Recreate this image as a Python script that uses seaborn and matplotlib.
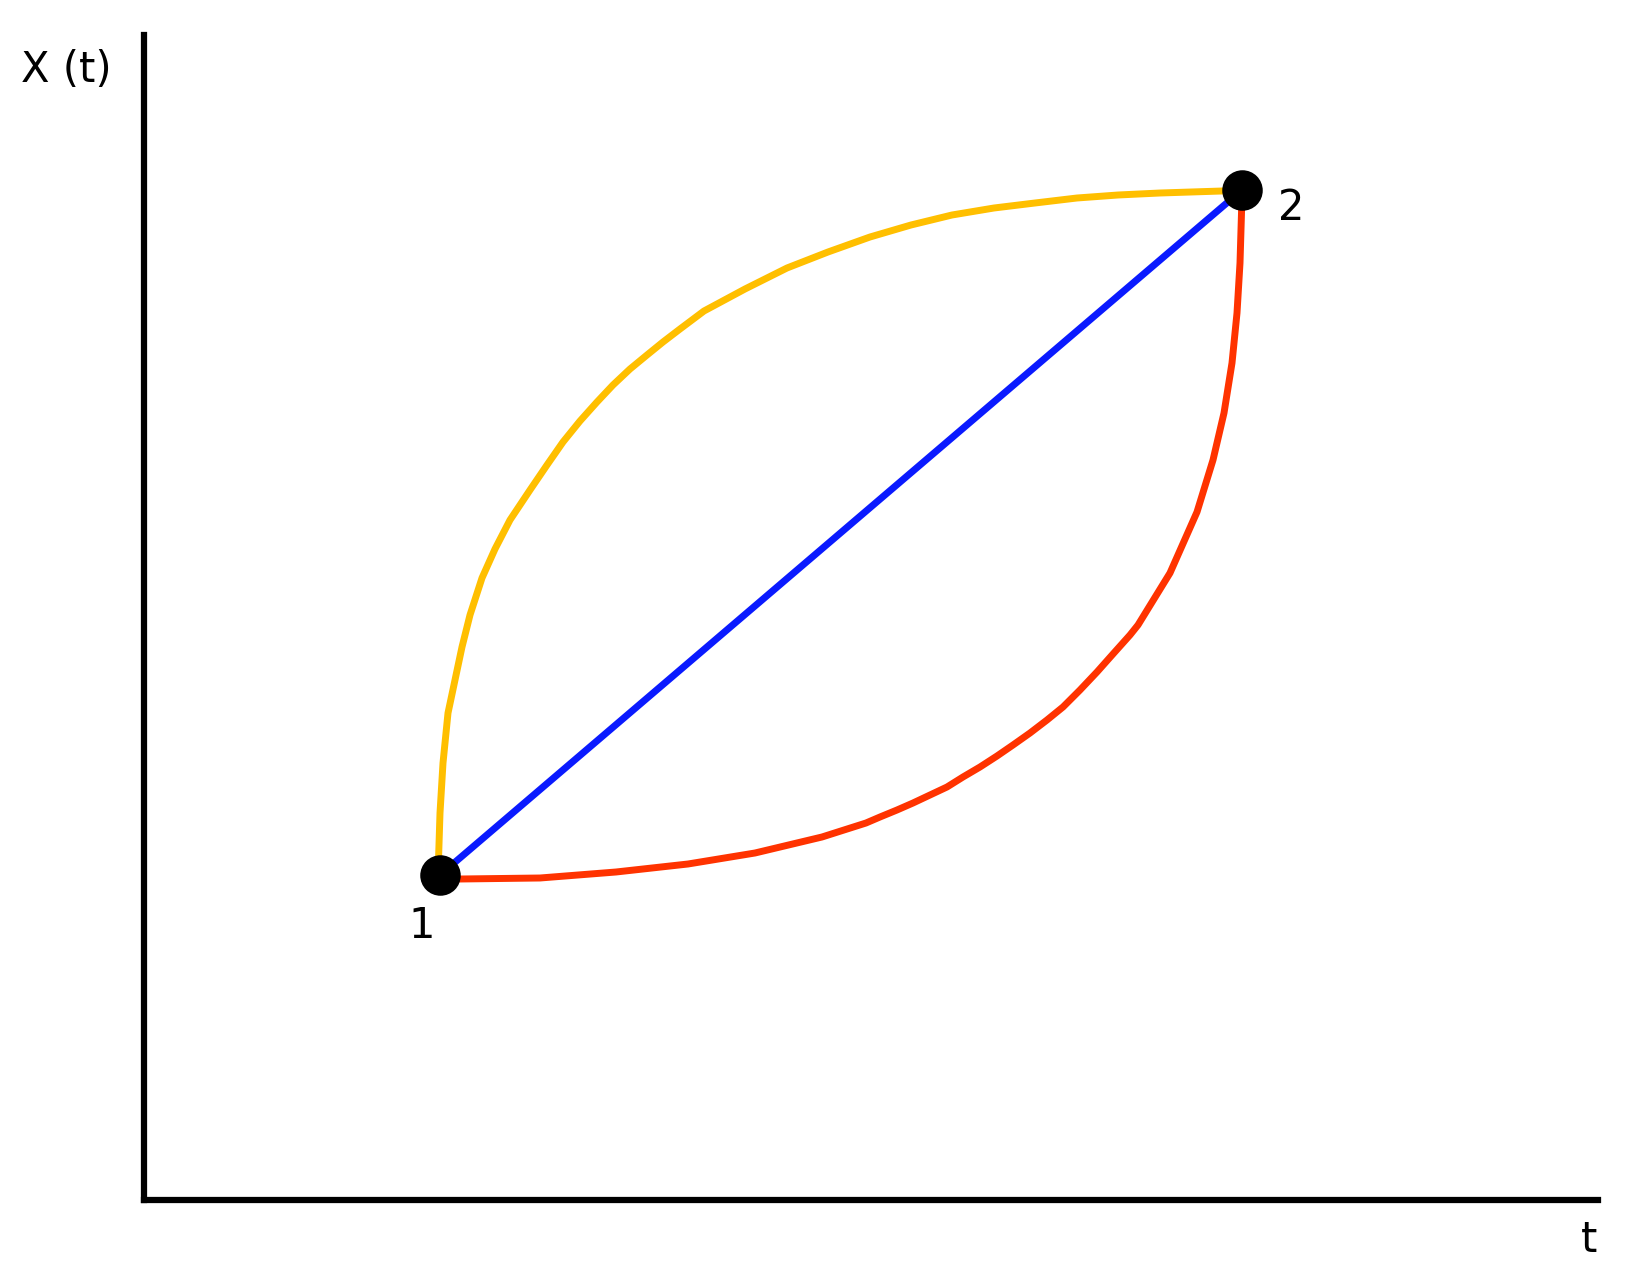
import numpy as np
import pandas as pd
import matplotlib
matplotlib.use("Agg")
import matplotlib.pyplot as plt
import seaborn as sns

# Data (arbitrary units; origin at the axes corner)
p1 = (296, 325)
p2 = (1098, 1010)

yellow_t = [296, 294.5, 296, 299, 304, 311, 318, 326, 338, 351, 366, 386, 403, 419, 436, 453,
            469, 486, 503, 519, 536, 560, 601, 643, 684, 726, 767, 808, 850, 891, 933, 974,
            1016, 1078, 1098]
yellow_x = [325, 340, 387, 437, 487, 520, 553, 585, 622, 651, 680, 710, 735, 758, 779, 798,
            815, 831, 845, 858, 871, 889, 911, 932, 948, 963, 975, 985, 992, 997, 1002, 1005,
            1007, 1009, 1010]

red_t = [296, 316, 396, 472, 544, 611, 678, 722, 736, 753, 769, 786, 803, 819, 836, 853, 869,
         886, 903, 919, 936, 953, 969, 986, 994, 1026, 1053, 1069, 1080, 1088, 1093, 1096,
         1097.5, 1098]
red_x = [325, 321, 322, 328, 336, 347, 363, 377, 383, 390, 397, 405, 413, 423, 433, 444, 455,
         467, 480, 493, 510, 528, 546, 565, 575, 627, 688, 740, 787, 837, 887, 937,
         987, 1010]

blue_t = [p1[0], p2[0]]
blue_x = [p1[1], p2[1]]

pts_t = [p1[0], p2[0]]
pts_x = [p1[1], p2[1]]
pt_labels = ["1", "2"]

sns.set_theme(style="white")
plt.rcParams['font.family'] = ['DejaVu Sans']
plt.rcParams['text.color'] = 'black'

fig = plt.figure(figsize=(16.41, 12.76), dpi=100)
ax = fig.add_axes([144/1641, 1 - 1200/1276, (1598-144)/1641, (1200-35)/1276])

lkw = dict(sort=False, estimator=None, linewidth=5.0, solid_capstyle="round",
           solid_joinstyle="round", ax=ax)
sns.lineplot(x=yellow_t, y=yellow_x, color="#ffbf00", **lkw)
sns.lineplot(x=red_t, y=red_x, color="#ff3300", **lkw)
sns.lineplot(x=blue_t, y=blue_x, color="#0a1aff", **lkw)
sns.scatterplot(x=pts_t, y=pts_x, color="black", s=27**2, edgecolor="black", zorder=5, ax=ax)

ax.set_xlim(0, 1454)
ax.set_ylim(0, 1165)
ax.set_xticks([])
ax.set_yticks([])
for s in ["top", "right"]:
    ax.spines[s].set_visible(False)
for s in ["left", "bottom"]:
    ax.spines[s].set_color("black")
    ax.spines[s].set_linewidth(4.5)

fs = 30
ax.text(278, 274, pt_labels[0], fontsize=fs, ha="center", va="center", color="black")
ax.text(1147, 992, pt_labels[1], fontsize=fs, ha="center", va="center", color="black")
ax.text(1445, -40, "t", fontsize=fs, ha="center", va="center", clip_on=False, color="black")
ax.text(-78, 1130, "X (t)", fontsize=fs, ha="center", va="center", clip_on=False, color="black")

fig.savefig("out.png", dpi=100, facecolor="white")
